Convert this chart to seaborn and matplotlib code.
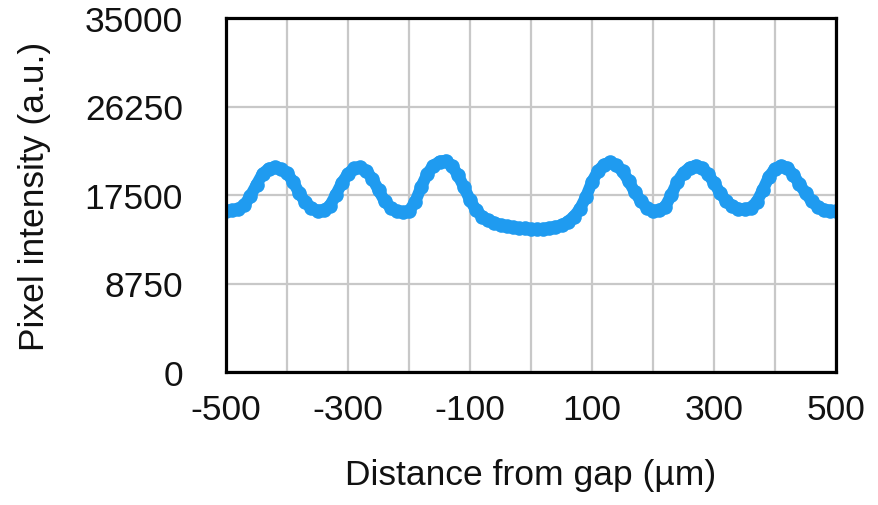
import matplotlib
matplotlib.use("Agg")
import matplotlib.pyplot as plt
import seaborn as sns
import pandas as pd

# ---- data ----
distance_um = list(range(-500, 501, 10))
pixel_intensity = [
    15950, 16000, 16100, 16500, 17400, 18500, 19600, 20100, 20250, 20100,
    19700, 18800, 17700, 16800, 16200, 15950, 16000, 16400, 17500, 18700,
    19600, 20150, 20250, 19900, 19100, 18000, 16900, 16250, 15900, 15800,
    15900, 16800, 18300, 19600, 20400, 20800, 20900, 20400, 19500, 18300,
    17000, 16000, 15350, 15000, 14750, 14550, 14400, 14300, 14250, 14200,
    14150, 14150, 14150, 14250, 14350, 14500, 14850, 15350, 16100, 17300,
    18800, 19900, 20500, 20750, 20450, 19850, 18900, 17800, 16900, 16250,
    15950, 16000, 16350, 17500, 18800, 19700, 20200, 20400, 20200, 19600,
    18700, 17700, 16900, 16400, 16150, 16100, 16250, 16800, 18000, 19300,
    20100, 20400, 20200, 19500, 18600, 17700, 16900, 16350, 16050, 15950,
    15950,
]
x_ticks = [-500, -400, -300, -200, -100, 0, 100, 200, 300, 400, 500]
x_tick_labels = ["-500", "", "-300", "", "-100", "", "100", "", "300", "", "500"]
y_ticks = [0, 8750, 17500, 26250, 35000]
y_tick_labels = ["0", "8750", "17500", "26250", "35000"]
x_label = "Distance from gap (\u00b5m)"
y_label = "Pixel intensity (a.u.)"

df = pd.DataFrame({"x": distance_um, "y": pixel_intensity})

sns.set_theme(style="white")
plt.rcParams["font.family"] = ["Liberation Sans", "DejaVu Sans"]

fig = plt.figure(figsize=(8.79, 5.06), dpi=100)
ax = fig.add_axes([226 / 879, 1 - 373 / 506, (836 - 226) / 879, (373 - 19) / 506])

blue = "#1f9bf0"
sns.lineplot(data=df, x="x", y="y", ax=ax, color=blue, linewidth=8.5,
             marker="o", markersize=10.5, markeredgewidth=0,
             solid_capstyle="round", zorder=3)

ax.set_xlim(-500, 500)
ax.set_ylim(0, 35000)
ax.set_xticks(x_ticks)
ax.set_xticklabels(x_tick_labels)
ax.set_yticks(y_ticks)
ax.set_yticklabels(y_tick_labels)
ax.grid(True, color="#c8c8c8", linewidth=1.6)
ax.set_axisbelow(True)
for sp in ax.spines.values():
    sp.set_color("black")
    sp.set_linewidth(2.3)
    sp.set_zorder(4)

fs = 25.5
ax.tick_params(axis="x", length=0, pad=15, labelsize=fs, colors="#111111")
ax.tick_params(axis="y", length=0, pad=31, labelsize=fs, colors="#111111")
ax.set_xlabel(x_label, fontsize=fs, labelpad=23, color="#111111")
ax.set_ylabel(y_label, fontsize=fs, labelpad=24, color="#111111")

fig.savefig("out.png", dpi=100, facecolor="white")
